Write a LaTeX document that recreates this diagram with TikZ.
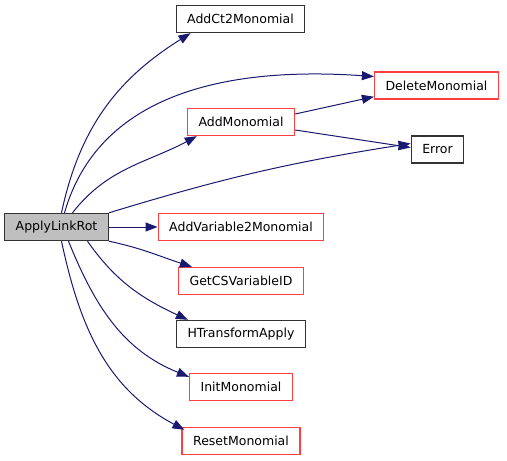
\documentclass[tikz,border=0pt]{standalone}
\usepackage{fontspec}
\setmainfont{DejaVu Sans}
\usetikzlibrary{arrows.meta}

\definecolor{callblue}{HTML}{191970}
\definecolor{linkred}{HTML}{FF4040}
\definecolor{rootgray}{HTML}{BFBFBF}

\tikzset{
  fn/.style={draw=black!80, line width=1.4pt, inner xsep=11pt, inner ysep=0pt,
    minimum height=27pt, font=\fontsize{12.5}{14}\selectfont},
  call/.style={draw=callblue, line width=1pt, -{Triangle[length=12pt,width=9pt]}},
}

\begin{document}
\begin{tikzpicture}[x=1pt,y=-1pt]
      \useasboundingbox (0,0) rectangle (507,461);
      \node[fn,fill=rootgray] (root) at (56.5,227) {ApplyLinkRot};
      \node[fn] (ct2) at (240.5,19) {AddCt2Monomial};
      \node[fn,draw=linkred] (del) at (436.5,85.5) {DeleteMonomial};
      \node[fn,draw=linkred] (addm) at (241,122) {AddMonomial};
      \node[fn] (err) at (437.5,149.5) {Error};
      % callees in the middle column
      \foreach \n/\y/\c/\t in {addv/227/linkred/AddVariable2Monomial,
          getcs/281/linkred/GetCSVariableID, htrans/334/black!80/HTransformApply,
          init/387/linkred/InitMonomial, reset/441/linkred/ResetMonomial} {
        \node[fn,draw=\c] (\n) at (241,\y) {\t};
      }
      \draw[call] ([xshift=5pt]root.north) to[out=78,in=-148] ([xshift=15pt]ct2.south west);
      \draw[call] ([xshift=8pt]root.north) to[out=74,in=176] ([yshift=9pt]del.west);
      \draw[call] ([xshift=16pt]root.north) to[out=52,in=-152] ([xshift=10pt]addm.south west);
      \draw[call] (root.north east) to[bend left=4] ([yshift=6pt]err.west);
      \draw[call] (root.east) -- (addv.west);
      \draw[call] (root.south east) to[out=-12,in=162] ([xshift=14pt]getcs.north west);
      \draw[call] ([xshift=31pt]root.south) to[out=-55,in=155] ([xshift=12pt]htrans.north west);
      \draw[call] ([xshift=12pt]root.south) to[out=-68,in=158] ([yshift=-4pt]init.north west);
      \draw[call] ([xshift=5pt]root.south) to[out=-78,in=152] ([xshift=3pt,yshift=-3pt]reset.north west);
      \draw[call] ([yshift=8pt]addm.east) -- ([yshift=3pt]del.south west);
      \draw[call] ([yshift=-8pt]addm.east) -- ([yshift=2pt]err.west);
\end{tikzpicture}
\end{document}
